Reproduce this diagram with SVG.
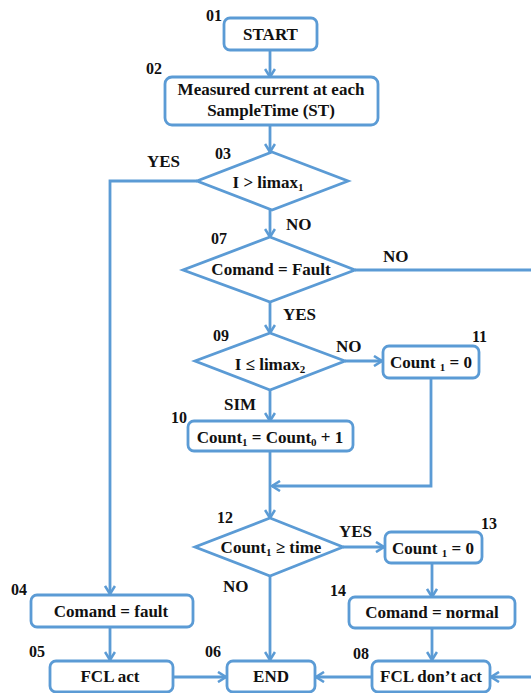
<svg xmlns="http://www.w3.org/2000/svg" width="531" height="693" viewBox="0 0 531 693">
<style>
.box{fill:#fff;stroke:#5b9bd5;stroke-width:2.8}
.ln{fill:none;stroke:#5b9bd5;stroke-width:2.8}
.ar{marker-end:url(#ah)}
text{font-family:"Liberation Serif","Times New Roman",serif;font-weight:bold;fill:#111}
.t{font-size:17px;text-anchor:middle}
.n{font-size:16px}
.l{font-size:17px}
.s{font-size:11px}
</style>
<defs>
<marker id="ah" markerWidth="12" markerHeight="12" refX="10" refY="6" orient="auto" markerUnits="userSpaceOnUse">
<path d="M2,1 L10,6 L2,11" fill="none" stroke="#5b9bd5" stroke-width="2.6"/>
</marker>
</defs>
<rect width="531" height="693" fill="#fff"/>
<g id="connectors">
<line class="ln ar" x1="270" y1="50" x2="270" y2="77"/>
<line class="ln ar" x1="270" y1="125" x2="270" y2="152"/>
<line class="ln ar" x1="270" y1="210" x2="270" y2="237"/>
<line class="ln ar" x1="270" y1="302" x2="270" y2="333"/>
<line class="ln ar" x1="345" y1="361" x2="382" y2="361"/>
<line class="ln ar" x1="270" y1="390" x2="270" y2="421"/>
<polyline class="ln ar" points="431,378 431,486 272,486"/>
<line class="ln ar" x1="270" y1="451" x2="270" y2="518"/>
<line class="ln ar" x1="343" y1="547" x2="384" y2="547"/>
<line class="ln ar" x1="432" y1="563" x2="432" y2="597"/>
<line class="ln ar" x1="432" y1="628" x2="432" y2="660"/>
<line class="ln ar" x1="372" y1="677" x2="316" y2="677"/>
<line class="ln ar" x1="531" y1="677" x2="491" y2="677"/>
<line class="ln ar" x1="270" y1="576" x2="270" y2="660"/>
<polyline class="ln ar" points="197,181 110,181 110,594"/>
<line class="ln ar" x1="110" y1="627" x2="110" y2="660"/>
<line class="ln ar" x1="173" y1="677" x2="226" y2="677"/>
<line class="ln" x1="355" y1="270" x2="531" y2="270"/>
</g>
<g id="n01">
<rect class="box" x="224" y="18" width="93" height="32" rx="6"/>
<text class="t" x="270.5" y="40">START</text>
<text class="n" x="206" y="21">01</text>
</g>
<g id="n02">
<rect class="box" x="165" y="77" width="213" height="48" rx="7"/>
<text class="t" x="271" y="95">Measured current at each</text>
<text class="t" x="271" y="116">SampleTime (ST)</text>
<text class="n" x="146" y="74">02</text>
</g>
<g id="n03">
<polygon class="box" points="272,152 348,181 272,210 197,181"/>
<text class="t" x="268" y="188">I &gt; limax<tspan class="s" dy="3">1</tspan></text>
<text class="n" x="215" y="159">03</text>
<text class="l" x="147" y="167">YES</text>
<text class="l" x="286" y="230">NO</text>
</g>
<g id="n07">
<polygon class="box" points="270,237 355,270 270,302 183,270"/>
<text class="t" x="271" y="275">Comand = Fault</text>
<text class="n" x="211" y="244">07</text>
<text class="l" x="383" y="262">NO</text>
<text class="l" x="283" y="320">YES</text>
</g>
<g id="n09">
<polygon class="box" points="270,333 345,361 270,390 195,361"/>
<text class="t" x="270" y="370">I ≤ limax<tspan class="s" dy="3">2</tspan></text>
<text class="n" x="213" y="341">09</text>
<text class="l" x="336" y="352">NO</text>
<text class="l" x="224" y="410">SIM</text>
</g>
<g id="n11">
<rect class="box" x="383" y="346" width="96" height="32" rx="6"/>
<text class="t" x="431" y="368">Count <tspan class="s" dy="3">1</tspan><tspan dy="-3"> = 0</tspan></text>
<text class="n" x="472" y="342">11</text>
</g>
<g id="n10">
<rect class="box" x="188" y="421" width="165" height="30" rx="6"/>
<text class="t" x="270" y="443">Count<tspan class="s" dy="3">1</tspan><tspan dy="-3"> = Count</tspan><tspan class="s" dy="3">0</tspan><tspan dy="-3"> + 1</tspan></text>
<text class="n" x="171" y="423">10</text>
</g>
<g id="n12">
<polygon class="box" points="270,518 343,547 270,576 195,547"/>
<text class="t" x="271" y="553">Count<tspan class="s" dy="3">1</tspan><tspan dy="-3"> ≥ time</tspan></text>
<text class="n" x="217" y="523">12</text>
<text class="l" x="339" y="537">YES</text>
<text class="l" x="223" y="592">NO</text>
</g>
<g id="n13">
<rect class="box" x="385" y="532" width="97" height="31" rx="6"/>
<text class="t" x="433" y="554">Count <tspan class="s" dy="3">1</tspan><tspan dy="-3"> = 0</tspan></text>
<text class="n" x="481" y="529">13</text>
</g>
<g id="n14">
<rect class="box" x="349" y="597" width="166" height="31" rx="6"/>
<text class="t" x="432" y="618">Comand = normal</text>
<text class="n" x="330" y="596">14</text>
</g>
<g id="n04">
<rect class="box" x="31" y="595" width="162" height="32" rx="6"/>
<text class="t" x="111" y="617">Comand = fault</text>
<text class="n" x="11" y="595">04</text>
</g>
<g id="n05">
<rect class="box" x="50" y="661" width="123" height="31" rx="6"/>
<text class="t" x="110" y="682">FCL act</text>
<text class="n" x="29" y="657">05</text>
</g>
<g id="n06">
<rect class="box" x="227" y="661" width="88" height="31" rx="6"/>
<text class="t" x="271" y="682">END</text>
<text class="n" x="205" y="657">06</text>
</g>
<g id="n08">
<rect class="box" x="372" y="661" width="118" height="31" rx="6"/>
<text class="t" x="431" y="682">FCL don’t act</text>
<text class="n" x="353" y="659">08</text>
</g>
</svg>
